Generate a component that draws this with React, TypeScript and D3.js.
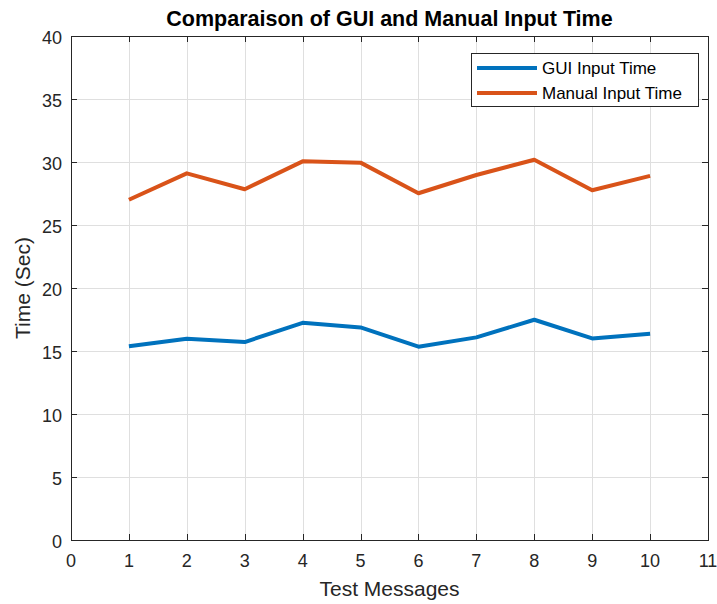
import React from 'react';
import * as d3 from 'd3';

const messages = [1, 2, 3, 4, 5, 6, 7, 8, 9, 10];
const guiTime = [15.37, 15.98, 15.71, 17.24, 16.87, 15.34, 16.08, 17.48, 16.0, 16.37];
const manualTime = [27.0, 29.1, 27.84, 30.05, 29.95, 27.52, 28.97, 30.18, 27.76, 28.9];
const xTicks = d3.range(0, 12);
const yTicks = d3.range(0, 45, 5);
const seriesNames = ['GUI Input Time', 'Manual Input Time'];
const colors = ['#0072BD', '#D95319'];

const width = 717;
const height = 604;
const marginTop = 36;
const marginRight = 9;
const marginBottom = 64;
const marginLeft = 71;

export default function App() {
    const ref = React.useRef<SVGSVGElement>(null);

    React.useEffect(() => {
        document.body.style.margin = '0';
        const svg = d3.select(ref.current);
        svg.selectAll('*').remove();

        const font = '"Liberation Sans", Arial, sans-serif';
        const x = d3.scaleLinear([0, 11], [marginLeft, width - marginRight]);
        const y = d3.scaleLinear([0, 40], [height - marginBottom, marginTop]);
        const x0 = marginLeft, x1 = width - marginRight;
        const y0 = height - marginBottom, y1 = marginTop;

        svg.append('rect').attr('width', width).attr('height', height).attr('fill', '#fff');

        // grid
        const grid = svg.append('g').attr('stroke', '#dfdfdf').attr('stroke-width', 1);
        grid.selectAll('.gx').data(xTicks.slice(1, -1)).join('line')
            .attr('x1', d => Math.round(x(d)) + 0.5).attr('x2', d => Math.round(x(d)) + 0.5)
            .attr('y1', y1).attr('y2', y0);
        grid.selectAll('.gy').data(yTicks.slice(1, -1)).join('line')
            .attr('y1', d => Math.round(y(d)) + 0.5).attr('y2', d => Math.round(y(d)) + 0.5)
            .attr('x1', x0).attr('x2', x1);

        // ticks (inward, all four sides)
        const tk = svg.append('g').attr('stroke', '#262626').attr('stroke-width', 1);
        const tl = 6;
        xTicks.forEach(d => {
            const px = Math.round(x(d)) + 0.5;
            tk.append('line').attr('x1', px).attr('x2', px).attr('y1', y0).attr('y2', y0 - tl);
            tk.append('line').attr('x1', px).attr('x2', px).attr('y1', y1).attr('y2', y1 + tl);
        });
        yTicks.forEach(d => {
            const py = Math.round(y(d)) + 0.5;
            tk.append('line').attr('x1', x0).attr('x2', x0 + tl).attr('y1', py).attr('y2', py);
            tk.append('line').attr('x1', x1).attr('x2', x1 - tl).attr('y1', py).attr('y2', py);
        });

        // lines
        const line = d3.line<number>().x((_, i) => x(messages[i])).y(d => y(d));
        [guiTime, manualTime].forEach((s, k) => {
            svg.append('path').datum(s)
                .attr('fill', 'none')
                .attr('stroke', colors[k])
                .attr('stroke-width', 4)
                .attr('stroke-linejoin', 'round')
                .attr('d', line);
        });

        // box
        svg.append('rect')
            .attr('x', x0 + 0.5).attr('y', y1 + 0.5)
            .attr('width', x1 - x0).attr('height', y0 - y1)
            .attr('fill', 'none').attr('stroke', '#262626').attr('stroke-width', 1);

        // tick labels
        svg.append('g').attr('font-family', font).attr('font-size', 18).attr('fill', '#262626')
            .attr('text-anchor', 'middle')
            .selectAll('text').data(xTicks).join('text')
            .attr('x', d => x(d)).attr('y', y0 + 27).text(d => d);
        svg.append('g').attr('font-family', font).attr('font-size', 18).attr('fill', '#262626')
            .attr('text-anchor', 'end')
            .selectAll('text').data(yTicks).join('text')
            .attr('x', x0 - 9).attr('y', d => y(d) + 8).text(d => d);

        // axis labels and title
        svg.append('text').attr('font-family', font).attr('font-size', 21).attr('fill', '#262626')
            .attr('text-anchor', 'middle')
            .attr('x', (x0 + x1) / 2).attr('y', 596).text('Test Messages');
        svg.append('text').attr('font-family', font).attr('font-size', 21).attr('fill', '#262626')
            .attr('text-anchor', 'middle')
            .attr('transform', `translate(30,${(y0 + y1) / 2}) rotate(-90)`).text('Time (Sec)');
        svg.append('text').attr('font-family', font).attr('font-size', 21.5).attr('font-weight', 'bold')
            .attr('fill', '#000').attr('text-anchor', 'middle')
            .attr('x', (x0 + x1) / 2).attr('y', 26).text('Comparaison of GUI and Manual Input Time');

        // legend
        const lg = svg.append('g').attr('transform', 'translate(471,53)');
        lg.append('rect').attr('x', 0.5).attr('y', 0.5).attr('width', 227).attr('height', 53)
            .attr('fill', '#fff').attr('stroke', '#262626').attr('stroke-width', 1);
        seriesNames.forEach((name, k) => {
            const ly = 15 + k * 25;
            lg.append('line').attr('x1', 6).attr('x2', 66).attr('y1', ly).attr('y2', ly)
                .attr('stroke', colors[k]).attr('stroke-width', 4);
            lg.append('text').attr('x', 71).attr('y', ly + 6)
                .attr('font-family', font).attr('font-size', 17).attr('fill', '#000').text(name);
        });
    }, []);

    return <svg ref={ref} width={width} height={height} style={{ display: 'block' }} />;
}
